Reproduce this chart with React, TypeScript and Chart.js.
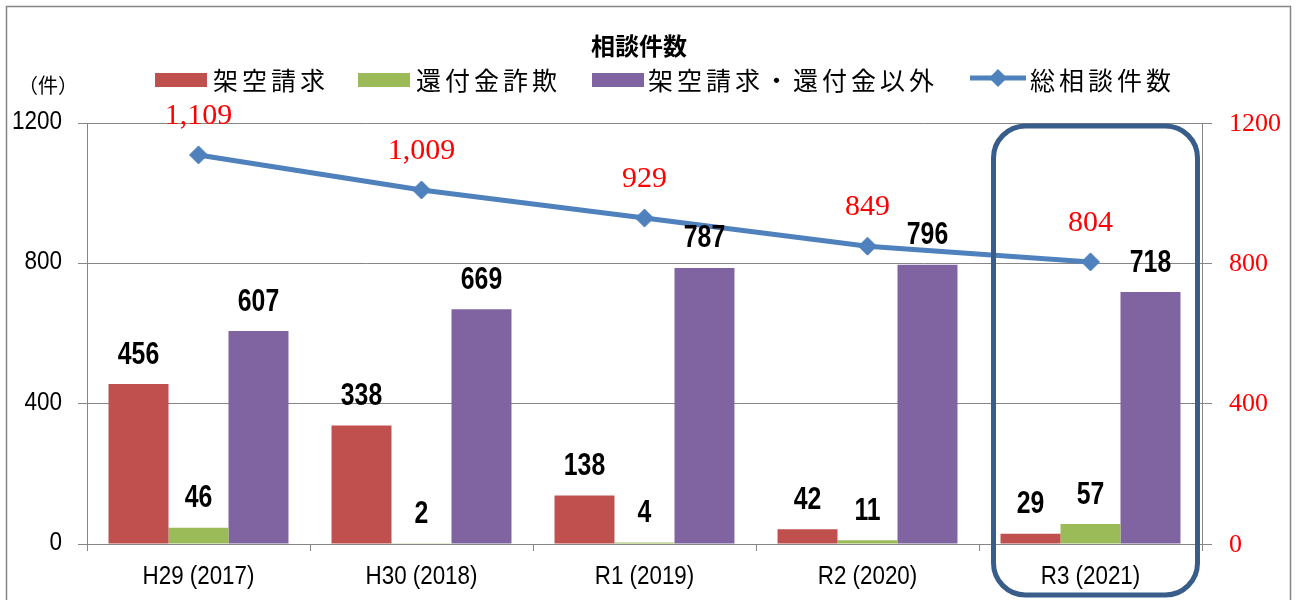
import React, { useEffect, useRef } from 'react';
import { Chart, registerables } from 'chart.js';

Chart.register(...registerables);

const categories = ['H29 (2017)', 'H30 (2018)', 'R1 (2019)', 'R2 (2020)', 'R3 (2021)'];
const kakuuSeikyu = [456, 338, 138, 42, 29];
const kanpukinSagi = [46, 2, 4, 11, 57];
const sonota = [607, 669, 787, 796, 718];
const soudanTotal = [1109, 1009, 929, 849, 804];
const seriesNames = ['架空請求', '還付金詐欺', '架空請求・還付金以外', '総相談件数'];
const chartTitle = '相談件数';
const unitLabel = '（件）';
const highlightIndex = 4;

const RED = '#C0504D';
const GREEN = '#9BBB59';
const PURPLE = '#8064A2';
const BLUE = '#4F81BD';
const FRAME_BLUE = '#385D8A';
const GRID = '#868686';
const SANS = "'Liberation Sans', Arial, sans-serif";
const SERIF = "'Liberation Serif', 'Times New Roman', serif";
const CJK = "'Noto Sans CJK JP', 'Noto Sans', sans-serif";

function narrowText(ctx: any, text: string, x: number, y: number, sx: number, align: string) {
  ctx.save();
  ctx.translate(x, y);
  ctx.scale(sx, 1);
  ctx.textAlign = align;
  ctx.textBaseline = 'middle';
  ctx.fillText(text, 0, 0);
  ctx.restore();
}

const decorPlugin = {
  id: 'decor',
  beforeDraw(chart: any) {
    const ctx = chart.ctx;
    ctx.save();
    ctx.fillStyle = '#ffffff';
    ctx.fillRect(0, 0, chart.width, chart.height);
    ctx.strokeStyle = GRID;
    ctx.lineWidth = 1.5;
    ctx.strokeRect(6.5, 6.5, 1284, 640);
    ctx.restore();
  },
  afterDraw(chart: any) {
    const ctx = chart.ctx;
    const xs = chart.scales.x;
    const ys = chart.scales.y;
    const ys2 = chart.scales.y2;
    ctx.save();
    // title
    ctx.fillStyle = '#000';
    ctx.font = `bold 24px ${CJK}`;
    ctx.textAlign = 'center';
    ctx.textBaseline = 'middle';
    ctx.fillText(chartTitle, 639, 46);

    // unit label
    ctx.font = `20px ${CJK}`;
    ctx.fillText(unitLabel, 48, 85);

    // legend
    const legendY = 80;
    const items = [
      { box: 155, text: 213, color: RED },
      { box: 358, text: 416, color: GREEN },
      { box: 592, text: 648, color: PURPLE },
    ];
    ctx.font = `25px ${CJK}`;
    (ctx as any).letterSpacing = '4px';
    ctx.textAlign = 'left';
    items.forEach((it, i) => {
      ctx.fillStyle = it.color;
      ctx.fillRect(it.box, legendY - 7, 52, 14);
      ctx.fillStyle = '#000';
      ctx.fillText(seriesNames[i], it.text, legendY);
    });
    ctx.strokeStyle = BLUE;
    ctx.lineWidth = 5;
    ctx.beginPath();
    ctx.moveTo(970, legendY - 2);
    ctx.lineTo(1026, legendY - 2);
    ctx.stroke();
    ctx.fillStyle = BLUE;
    ctx.beginPath();
    ctx.moveTo(998 - 9, legendY - 2);
    ctx.lineTo(998, legendY - 11);
    ctx.lineTo(998 + 9, legendY - 2);
    ctx.lineTo(998, legendY + 7);
    ctx.closePath();
    ctx.fill();
    ctx.fillStyle = '#000';
    ctx.fillText(seriesNames[3], 1030, legendY);
    (ctx as any).letterSpacing = '0px';

    // axis tick labels
    ctx.fillStyle = '#000';
    ctx.font = `25px ${SANS}`;
    ys.ticks.forEach((t: any) => {
      narrowText(ctx, String(t.value), 62, ys.getPixelForValue(t.value) - 1, 0.9, 'right');
    });
    ctx.font = `26px ${SANS}`;
    categories.forEach((c, i) => {
      narrowText(ctx, c, xs.getPixelForValue(i), 577, 0.86, 'center');
    });
    ctx.fillStyle = '#FF0000';
    ctx.font = `26px ${SERIF}`;
    ys2.ticks.forEach((t: any) => {
      ctx.textAlign = 'left';
      ctx.textBaseline = 'middle';
      ctx.fillText(String(t.value), 1229, ys2.getPixelForValue(t.value) + 1);
    });

    // bar labels
    ctx.font = `bold 31px ${SANS}`;
    ctx.fillStyle = '#000';
    [1, 2, 3].forEach((di) => {
      const meta = chart.getDatasetMeta(di);
      const ds = chart.data.datasets[di];
      meta.data.forEach((el: any, j: number) => {
        narrowText(ctx, String(ds.data[j]), el.x, el.y - 29, 0.8, 'center');
      });
    });

    // line labels
    ctx.font = `30px ${SERIF}`;
    ctx.fillStyle = '#FF0000';
    ctx.textAlign = 'center';
    ctx.textBaseline = 'middle';
    const lmeta = chart.getDatasetMeta(0);
    const lds = chart.data.datasets[0];
    lmeta.data.forEach((el: any, j: number) => {
      ctx.fillText(Number(lds.data[j]).toLocaleString('en-US'), el.x, el.y - 39);
    });

    // highlight rounded rectangle
    const cx = xs.getPixelForValue(highlightIndex) + 5;
    const halfW = 102;
    const top = ys.getPixelForValue(1200) + 3;
    const bottom = 595;
    ctx.strokeStyle = FRAME_BLUE;
    ctx.lineWidth = 5;
    ctx.beginPath();
    (ctx as any).roundRect(cx - halfW, top, halfW * 2, bottom - top, 32);
    ctx.stroke();
    ctx.restore();
  },
};

export default function App() {
  const ref = useRef<HTMLCanvasElement | null>(null);
  useEffect(() => {
    document.body.style.margin = '0';
    const canvas = ref.current!;
    const chart = new Chart(canvas, {
      type: 'bar',
      data: {
        labels: categories,
        datasets: [
          {
            type: 'line',
            label: seriesNames[3],
            data: soudanTotal,
            borderColor: BLUE,
            backgroundColor: BLUE,
            borderWidth: 5,
            pointStyle: 'rectRot',
            pointRadius: 9,
            pointBackgroundColor: BLUE,
            pointBorderColor: BLUE,
            pointBorderWidth: 1,
            tension: 0,
            yAxisID: 'y',
            order: 0,
          } as any,
          { label: seriesNames[0], data: kakuuSeikyu, backgroundColor: RED, yAxisID: 'y', order: 1 },
          { label: seriesNames[1], data: kanpukinSagi, backgroundColor: GREEN, yAxisID: 'y', order: 1 },
          { label: seriesNames[2], data: sonota, backgroundColor: PURPLE, yAxisID: 'y', order: 1 },
        ],
      },
      options: {
        responsive: false,
        animation: false,
        events: [],
        layout: { padding: { top: 123, bottom: 0, left: 0, right: 0 } },
        datasets: {
          bar: { categoryPercentage: 0.807, barPercentage: 1 },
        } as any,
        plugins: {
          legend: { display: false },
          title: { display: false },
          tooltip: { enabled: false },
        },
        scales: {
          x: {
            offset: true,
            grid: {
              display: true,
              drawOnChartArea: false,
              drawTicks: true,
              tickLength: 7,
              color: GRID,
              offset: true,
            },
            border: { display: true, color: GRID, width: 1 },
            ticks: { display: false, autoSkip: false },
            afterFit: (s: any) => {
              s.height = 56;
            },
          },
          y: {
            position: 'left',
            min: 0,
            max: 1200,
            ticks: { stepSize: 400, display: false },
            grid: { color: GRID, tickLength: 9, drawTicks: true },
            border: { display: true, color: GRID },
            afterFit: (s: any) => {
              s.width = 87;
            },
          },
          y2: {
            position: 'right',
            min: 0,
            max: 1200,
            ticks: { stepSize: 400, display: false },
            grid: { drawOnChartArea: false, tickLength: 10, color: GRID },
            border: { display: true, color: GRID },
            afterFit: (s: any) => {
              s.width = 96;
            },
          },
        },
      } as any,
      plugins: [decorPlugin],
    });
    return () => chart.destroy();
  }, []);
  return (
    <div style={{ width: 1298, height: 600 }}>
      <canvas ref={ref} width={1298} height={600} style={{ display: 'block' }} />
    </div>
  );
}
